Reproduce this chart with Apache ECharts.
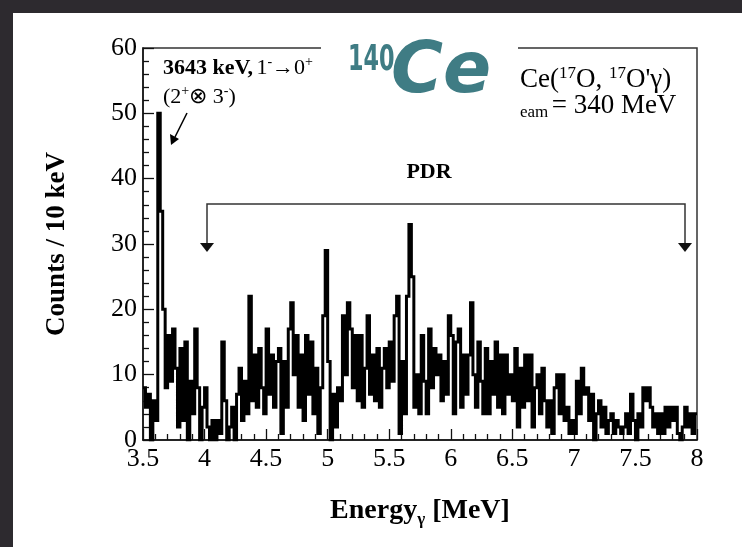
<!DOCTYPE html>
<html>
<head>
<meta charset="utf-8">
<script src="https://cdn.jsdelivr.net/npm/echarts@6/dist/echarts.min.js"></script>
<style>
  html, body { margin: 0; padding: 0; background: #2d2a2f; }
  #paper { position: absolute; left: 13px; top: 13px; width: 729px; height: 534px; background: #fff; }
  #chart { position: absolute; left: 0; top: 0; width: 742px; height: 547px; }
</style>
</head>
<body>
<div id="paper"></div>
<div id="chart"></div>
<script>
// 能谱: 从 3.5 MeV 开始, 每个 bin 20 keV
const binStart = 3.5
const binWidth = 0.02
const xMin = 3.5
const xMax = 8
const yMax = 60

// counts per bin (0.1 MeV per row)
const counts = [
  8, 5, 7, 0, 6,
  3, 50, 35, 20, 8,
  16, 9, 17, 11, 2,
  14, 3, 15, 0, 9,
  4, 17, 8, 0, 5,
  8, 2, 0, 3, 0,
  3, 1, 15, 6, 0,
  2, 5, 0, 7, 11,
  3, 9, 4, 22, 6,
  13, 5, 14, 8, 4,
  17, 7, 13, 5, 12,
  14, 1, 12, 5, 17,
  21, 10, 16, 5, 13,
  3, 16, 7, 15, 4,
  11, 1, 8, 19, 29,
  12, 0, 7, 2, 8,
  6, 19, 10, 21, 17,
  8, 16, 6, 16, 5,
  11, 19, 7, 13, 6,
  14, 5, 11, 14, 8,
  15, 9, 19, 22, 1,
  12, 4, 22, 33, 25,
  5, 10, 4, 16, 9,
  4, 17, 8, 14, 10,
  13, 6, 12, 7, 19,
  16, 4, 15, 17, 5,
  13, 7, 13, 21, 10,
  5, 15, 9, 4, 14,
  4, 12, 7, 15, 5,
  13, 4, 13, 7, 10,
  6, 14, 2, 11, 5,
  13, 6, 13, 2, 8,
  10, 4, 11, 6, 2,
  6, 1, 8, 10, 4,
  10, 3, 5, 1, 3,
  1, 9, 4, 11, 7,
  8, 3, 7, 0, 4,
  6, 2, 5, 1, 3,
  4, 1, 3, 2, 1,
  2, 4, 1, 7, 3,
  0, 4, 2, 8, 6,
  8, 5, 2, 4, 1,
  4, 1, 5, 2, 5,
  3, 5, 1, 0, 2,
  5, 2, 4, 1, 4
]

const serif = 'Liberation Serif'
const teal = '#3f7c84'

const chart = echarts.init(document.getElementById('chart'))

// step 'end': 每个点画到下一个 bin 起点
const histData = counts.map((c, i) => [binStart + i * binWidth, c])
histData.push([xMax, counts[counts.length - 1]])

const axisCommon = {
  axisLine: { show: true, lineStyle: { color: '#111', width: 1.5 } },
  axisTick: { show: true, inside: true, length: 11, lineStyle: { color: '#111', width: 1.3 } },
  minorTick: { show: true, splitNumber: 5, length: 6, lineStyle: { color: '#111', width: 1.3 } },
  splitLine: { show: false },
  axisLabel: { fontFamily: serif, fontSize: 26, color: '#000', margin: 6 }
}

const option = {
  animation: false,
  backgroundColor: 'transparent',
  grid: {
    left: 143, right: 45, top: 48, bottom: 107,
    show: true, borderColor: '#333', borderWidth: 1.5
  },
  xAxis: Object.assign({}, axisCommon, {
    type: 'value',
    min: xMin,
    max: xMax,
    interval: 0.5,
    name: '{b|Energy}{s|γ}{b| [MeV]}',
    nameLocation: 'middle',
    nameGap: 54,
    nameTextStyle: {
      rich: {
        b: { fontFamily: serif, fontWeight: 'bold', fontSize: 28, color: '#000', lineHeight: 34 },
        s: { fontFamily: serif, fontWeight: 'bold', fontSize: 17, color: '#000', verticalAlign: 'bottom' }
      }
    }
  }),
  yAxis: Object.assign({}, axisCommon, {
    type: 'value',
    min: 0,
    max: yMax,
    interval: 10,
    name: 'Counts / 10 keV',
    nameLocation: 'middle',
    nameRotate: 90,
    nameGap: 72,
    nameTextStyle: { fontFamily: serif, fontWeight: 'bold', fontSize: 27, color: '#000' }
  }),
  series: [
    {
      type: 'line',
      step: 'end',
      symbol: 'none',
      silent: true,
      data: histData,
      lineStyle: { color: '#000', width: 3, join: 'miter', cap: 'butt' }
    }
  ],
  graphic: [
    // 盖住上边框的白块 + 140Ce
    { type: 'rect', z: 100, shape: { x: 321, y: 28, width: 197, height: 92 }, style: { fill: '#fff' } },
    {
      type: 'text', z: 101,
      style: { x: 348, y: 43, text: '140', font: 'bold 36px "DejaVu Sans"', fill: teal },
      scaleX: 0.62, originX: 348, originY: 43
    },
    {
      type: 'text', z: 101,
      style: { x: 391, y: 38, text: 'Ce', font: 'italic bold 71px "DejaVu Sans"', fill: teal }
    },
    // 峰的标注
    {
      type: 'text', z: 101,
      style: {
        x: 163, y: 68, textVerticalAlign: 'middle',
        text: '{b|3643 keV,} {r|1}{p|-}{r|→0}{p|+}',
        rich: {
          b: { fontFamily: serif, fontWeight: 'bold', fontSize: 22, fill: '#000', lineHeight: 25 },
          r: { fontFamily: serif, fontSize: 22, fill: '#000', lineHeight: 25 },
          p: { fontFamily: serif, fontSize: 14, fill: '#000', verticalAlign: 'top' }
        }
      }
    },
    {
      type: 'text', z: 101,
      style: {
        x: 163, y: 97, textVerticalAlign: 'middle',
        text: '{r|(2}{p|+}{r|⊗ 3}{p|-}{r|)}',
        rich: {
          r: { fontFamily: serif, fontSize: 22, fill: '#000', lineHeight: 25 },
          p: { fontFamily: serif, fontSize: 14, fill: '#000', verticalAlign: 'top' }
        }
      }
    },
    { type: 'line', z: 101, shape: { x1: 187, y1: 113, x2: 175, y2: 137 }, style: { stroke: '#000', lineWidth: 1.5 } },
    { type: 'polygon', z: 101, shape: { points: [[171, 145], [170, 134], [179, 139]] }, style: { fill: '#000' } },
    // PDR 区间
    {
      type: 'text', z: 101,
      style: { x: 429, y: 172, text: 'PDR', textAlign: 'center', textVerticalAlign: 'middle', font: 'bold 22px "Liberation Serif"', fill: '#000' }
    },
    {
      type: 'polyline', z: 101,
      shape: { points: [[207, 246], [207, 204], [685, 204], [685, 246]] },
      style: { stroke: '#333', lineWidth: 1.5, fill: null }
    },
    { type: 'polygon', z: 101, shape: { points: [[200, 243], [214, 243], [207, 252]] }, style: { fill: '#111' } },
    { type: 'polygon', z: 101, shape: { points: [[678, 243], [692, 243], [685, 252]] }, style: { fill: '#111' } },
    // 反应
    {
      type: 'text', z: 101,
      style: {
        x: 520, y: 80, textVerticalAlign: 'middle',
        text: '{r|Ce(}{p|17}{r|O, }{p|17}{r|O\'γ)}',
        rich: {
          r: { fontFamily: serif, fontSize: 27, fill: '#000', lineHeight: 30 },
          p: { fontFamily: serif, fontSize: 17, fill: '#000', verticalAlign: 'top' }
        }
      }
    },
    {
      type: 'text', z: 101,
      style: {
        x: 520, y: 106, textVerticalAlign: 'middle',
        text: '{s|eam} {r|= 340 MeV}',
        rich: {
          r: { fontFamily: serif, fontSize: 27, fill: '#000', lineHeight: 30 },
          s: { fontFamily: serif, fontSize: 17, fill: '#000', verticalAlign: 'bottom' }
        }
      }
    }
  ]
}

chart.setOption(option)
</script>
</body>
</html>
